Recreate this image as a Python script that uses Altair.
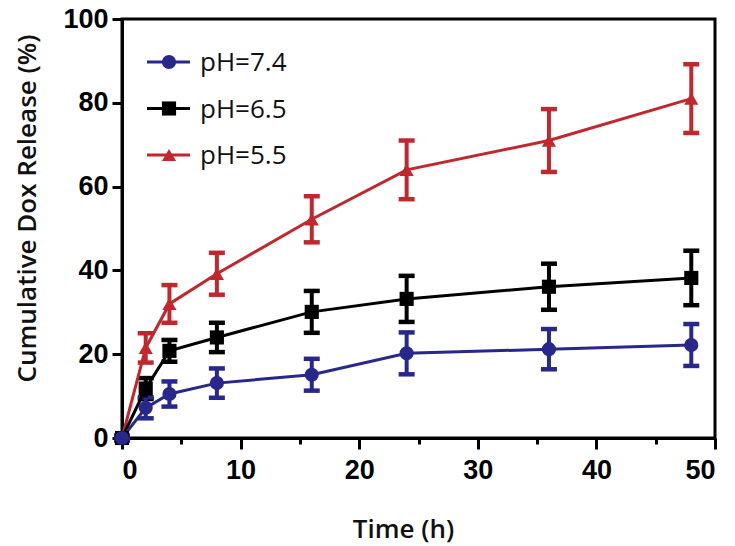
import altair as alt
import pandas as pd

time_h = [0, 2, 4, 8, 16, 24, 36, 48]
series = ["pH=7.4", "pH=6.5", "pH=5.5"]
ph74 = [0, 7.2, 10.5, 13.1, 15.1, 20.2, 21.2, 22.2]
ph74_err = [0.5, 2.5, 3.0, 3.5, 3.8, 5.0, 4.8, 5.0]
ph65 = [0, 11.8, 20.8, 24.0, 30.1, 33.2, 36.1, 38.2]
ph65_err = [0.5, 2.5, 2.6, 3.5, 5.0, 5.5, 5.5, 6.5]
ph55 = [0, 21.5, 32.0, 39.2, 52.2, 64.0, 71.0, 81.0]
ph55_err = [0.5, 3.5, 4.5, 5.0, 5.5, 7.0, 7.5, 8.2]
colors = ["#27278c", "#000000", "#c1272d"]
shapes = ["circle", "square", "triangle-up"]
marker_sizes = [200, 200, 250]

rows = []
# row order sets drawing order: red first, then black, blue on top
for name, vals, errs in [("pH=5.5", ph55, ph55_err), ("pH=6.5", ph65, ph65_err), ("pH=7.4", ph74, ph74_err)]:
    for t, v, e in zip(time_h, vals, errs):
        rows.append({"series": name, "time": t, "value": v, "lo": v - e, "hi": v + e})
df = pd.DataFrame(rows)
legend_df = pd.DataFrame({"series": series})

cscale = alt.Scale(domain=series, range=colors)
sscale = alt.Scale(domain=series, range=shapes)
xscale = alt.Scale(domain=[0, 50], nice=False, zero=False)
yscale = alt.Scale(domain=[0, 100], nice=False)

xaxis = alt.Axis(
    values=[0, 5, 10, 15, 20, 25, 30, 35, 40, 45, 50],
    labelExpr="datum.value % 10 === 0 ? datum.label : ''",
    tickSize={"condition": {"test": "datum.value % 10 === 0", "value": 11}, "value": 6},
    title="Time (h)",
    titleX=281, titleY=99, titleBaseline="alphabetic", titleAlign="center", titleAnchor="start",
)
yaxis = alt.Axis(
    values=[0, 20, 40, 60, 80, 100],
    tickSize=10,
    title="Cumulative Dox Release (%)",
    titleX=-95, titleY=189, titleAngle=-90, titleBaseline="middle", titleAlign="center", titleAnchor="start",
)

base = alt.Chart(df)

err = base.mark_errorbar(
    ticks={"size": 16, "thickness": 4.5, "opacity": 1},
    rule={"strokeWidth": 4, "opacity": 1},
).encode(
    x=alt.X("time:Q", scale=xscale, axis=xaxis),
    y=alt.Y("lo:Q", scale=yscale, axis=yaxis),
    y2="hi:Q",
    color=alt.Color("series:N", scale=cscale, legend=None),
    detail="series:N",
)

line = base.mark_line(strokeWidth=3).encode(
    x=alt.X("time:Q", scale=xscale),
    y=alt.Y("value:Q", scale=yscale),
    color=alt.Color("series:N", scale=cscale, legend=None),
    detail="series:N",
)

pts = base.mark_point(filled=True, opacity=1).encode(
    x=alt.X("time:Q", scale=xscale),
    y=alt.Y("value:Q", scale=yscale),
    color=alt.Color("series:N", scale=cscale, legend=None),
    shape=alt.Shape("series:N", scale=sscale, legend=None),
    size=alt.Size("series:N", scale=alt.Scale(domain=series, range=marker_sizes), legend=None),
)

main = alt.layer(err, line, pts)

# legend drawn as its own small layer (rows placed by a point scale)
leg_y = alt.Y("series:N", scale=alt.Scale(type="point", domain=series, range=[43, 136], padding=0), axis=None)
lbase = alt.Chart(legend_df)
leg_rule = lbase.mark_rule(strokeWidth=3).encode(
    x=alt.value(25), x2=alt.value(68), y=leg_y,
    color=alt.Color("series:N", scale=cscale, legend=None),
)
leg_pt = lbase.mark_point(filled=True, opacity=1).encode(
    x=alt.value(47), y=leg_y,
    color=alt.Color("series:N", scale=cscale, legend=None),
    shape=alt.Shape("series:N", scale=sscale, legend=None),
    size=alt.Size("series:N", scale=alt.Scale(domain=series, range=[330, 300, 330]), legend=None),
)
leg_text = lbase.mark_text(align="left", baseline="middle", fontSize=26, font="Open Sans", color="#111111", dy=1).encode(
    x=alt.value(78), y=leg_y, text="series:N",
)

chart = alt.layer(main, leg_rule, leg_pt, leg_text).resolve_scale(y="independent").properties(
    width=593,
    height=419,
    autosize=alt.AutoSizeParams(type="none"),
    padding={"left": 114, "top": 11, "right": 12, "bottom": 110},
).configure_view(
    stroke="#000000", strokeWidth=3
).configure_axis(
    domainColor="#000000",
    domainWidth=3,
    tickColor="#000000",
    tickWidth=3,
    labelFont="Liberation Sans",
    labelFontWeight="bold",
    labelFontSize=27,
    labelColor="#000000",
    labelPadding=4,
    titleFont="Open Sans",
    titleFontSize=26,
    titleFontWeight=600,
    titleColor="#111111",
    grid=False,
).configure_axisX(
    labelPadding=8,
)

chart.save("out.html", embed_options={"renderer": "svg", "actions": False})
